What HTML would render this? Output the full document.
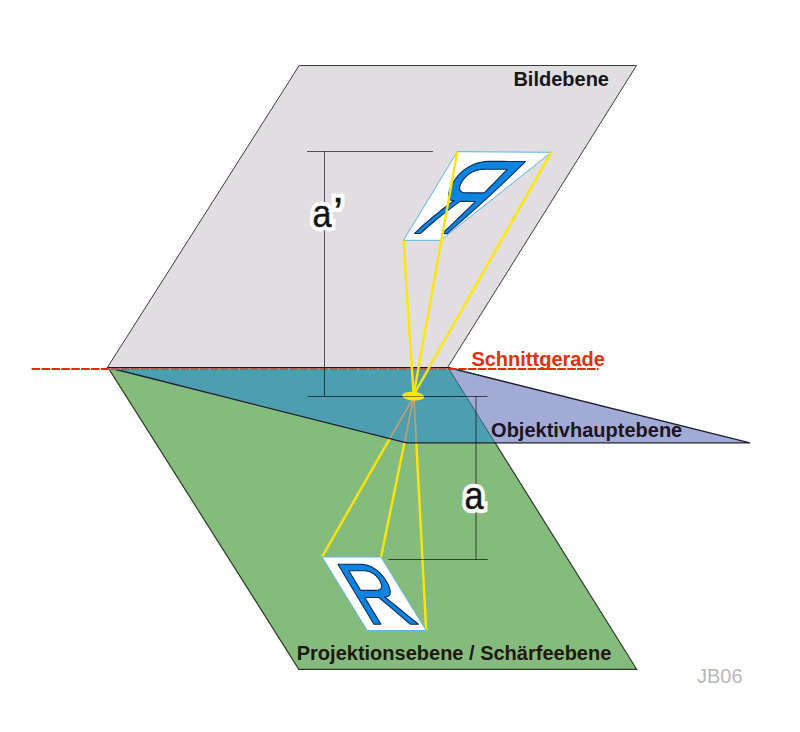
<!DOCTYPE html>
<html><head><meta charset="utf-8"><style>
html,body{margin:0;padding:0;background:#fff;}
svg{display:block;}
</style></head><body>
<svg width="800" height="732" viewBox="0 0 800 732">
<rect width="800" height="732" fill="#fff"/>
<polygon points="299.20,65.50 636.50,65.50 447.60,367.50 107.40,367.50" fill="#e0dee1" stroke="#3c3c3c" stroke-width="1.0" stroke-linejoin="miter"/>
<polygon points="108.00,367.50 448.00,367.50 636.70,669.30 298.80,669.30" fill="#86bb7e" stroke="#2a3a22" stroke-width="1.2"/>
<line x1="413.90" y1="396.50" x2="322.00" y2="557.00" stroke="#ffe600" stroke-width="2.4"/>
<line x1="413.90" y1="396.50" x2="381.00" y2="557.00" stroke="#ffe600" stroke-width="2.4"/>
<line x1="413.90" y1="396.50" x2="426.20" y2="630.50" stroke="#ffe600" stroke-width="2.4"/>
<polygon points="108.00,367.50 448.00,367.50 750.00,442.80 406.50,442.80" fill="#a2aad6" stroke="none"/>
<polygon points="108.00,367.50 448.00,367.50 495.08,442.80 406.50,442.80" fill="#4e9eb2" stroke="none"/>
<clipPath id="tc"><polygon points="108.00,367.50 448.00,367.50 495.08,442.80 406.50,442.80"/></clipPath>
<g clip-path="url(#tc)"><line x1="413.90" y1="396.50" x2="322.00" y2="557.00" stroke="#c4a070" stroke-width="1.6"/><line x1="413.90" y1="396.50" x2="381.00" y2="557.00" stroke="#c4a070" stroke-width="1.6"/><line x1="413.90" y1="396.50" x2="426.20" y2="630.50" stroke="#c4a070" stroke-width="1.6"/></g>
<line x1="448" y1="367.5" x2="495.08" y2="442.8" stroke="#1f5a66" stroke-width="0.9"/>
<polyline points="108.00,367.50 406.50,442.80 750.00,442.80 448.00,367.50" fill="none" stroke="#1e2030" stroke-width="1.3"/>
<line x1="108" y1="367.5" x2="448" y2="367.5" stroke="#1c1820" stroke-width="1"/>
<line x1="108" y1="369.0" x2="448" y2="369.0" stroke="#9c98a4" stroke-width="2"/>
<line x1="31.6" y1="369.0" x2="108" y2="369.0" stroke="#e8280a" stroke-width="2.0" stroke-dasharray="8.5 1.42" stroke-dashoffset="0.00"/>
<line x1="108" y1="369.0" x2="448" y2="369.0" stroke="#b85858" stroke-width="2.0" stroke-dasharray="8.5 1.42" stroke-dashoffset="6.96"/>
<line x1="448" y1="369.0" x2="598.6" y2="369.0" stroke="#e8280a" stroke-width="2.0" stroke-dasharray="8.5 1.42" stroke-dashoffset="9.68"/>
<g stroke="#000" stroke-width="1" fill="none" stroke-opacity="0.64"><path d="M307 151.5H433M324.5 151.5V396M307.5 396.5H487.5M476 396.5V559.5M388.3 559.5H487.7"/></g>
<polygon points="322.00,557.00 381.00,557.00 426.20,630.50 367.20,630.50" fill="#fff" stroke="#5ab4e4" stroke-width="1"/>
<path d="M410.41 624.30L405.18 619.84L399.94 615.37L394.71 610.91L389.48 606.44L384.25 601.98L379.02 597.51L376.66 597.51L374.30 597.51L371.95 597.51L369.59 597.51L367.23 597.51L364.88 597.51L367.56 601.98L370.23 606.44L372.91 610.91L375.59 615.37L378.27 619.84L380.95 624.30L379.78 624.30L378.62 624.30L377.45 624.30L376.29 624.30L375.12 624.30L373.96 624.30L367.95 614.28L361.94 604.27L355.93 594.25L349.92 584.23L343.91 574.22L337.90 564.20L341.60 564.20L345.30 564.20L348.99 564.20L352.69 564.20L356.39 564.20L360.09 564.20L362.62 564.33L365.11 564.70L367.56 565.34L369.97 566.22L372.33 567.35L374.65 568.74L376.89 570.36L379.02 572.17L381.04 574.18L382.94 576.38L384.73 578.79L386.41 581.39L387.63 583.56L388.62 585.62L389.37 587.55L389.89 589.37L390.17 591.07L390.22 592.65L390.00 594.03L389.50 595.14L388.70 595.97L387.62 596.52L386.24 596.79L384.57 596.79L390.22 601.37L395.87 605.96L401.51 610.54L407.16 615.13L412.81 619.71L418.46 624.30ZM379.55 580.26L378.58 578.77L377.53 577.40L376.41 576.16L375.22 575.04L373.95 574.04L372.60 573.17L371.19 572.42L369.73 571.81L368.22 571.34L366.66 571.00L365.05 570.79L363.39 570.73L360.96 570.73L358.53 570.73L356.10 570.73L353.67 570.73L351.24 570.73L348.81 570.73L350.77 574.00L352.74 577.28L354.70 580.56L356.67 583.83L358.64 587.11L360.60 590.39L363.08 590.39L365.55 590.39L368.03 590.39L370.50 590.39L372.97 590.39L375.45 590.39L376.96 590.31L378.27 590.09L379.36 589.72L380.24 589.20L380.91 588.54L381.37 587.72L381.61 586.78L381.64 585.71L381.44 584.52L381.03 583.22L380.40 581.80L379.55 580.26Z" fill="#0c84e0" stroke="#0a2c5a" stroke-width="1.1" stroke-linejoin="round"/>
<polygon points="457.30,151.70 551.20,152.30 440.70,240.30 403.50,240.30" fill="#fff" stroke="#5ab4e4" stroke-width="1"/>
<path d="M420.32 233.55L424.78 229.52L429.39 225.50L434.14 221.48L439.04 217.45L444.07 213.43L449.26 209.42L454.58 205.40L460.05 201.38L462.00 201.39L463.94 201.40L465.89 201.41L467.84 201.42L469.79 201.43L471.74 201.43L473.69 201.44L475.64 201.45L471.54 205.47L467.42 209.48L463.27 213.50L459.08 217.51L454.86 221.53L450.61 225.54L446.32 229.56L442.01 233.57L442.65 233.57L443.29 233.57L443.94 233.58L444.58 233.58L445.22 233.58L445.87 233.58L446.51 233.58L447.15 233.58L457.51 224.58L467.71 215.58L477.74 206.58L487.61 197.57L497.32 188.57L506.87 179.56L516.25 170.55L525.48 161.54L521.16 161.51L516.84 161.49L512.51 161.46L508.19 161.43L503.87 161.41L499.55 161.38L495.22 161.35L490.90 161.33L487.94 161.40L485.03 161.64L482.17 162.05L479.39 162.63L476.67 163.39L474.04 164.31L471.49 165.41L469.02 166.69L466.66 168.11L464.43 169.67L462.34 171.37L460.37 173.20L458.52 175.17L456.78 177.28L455.14 179.51L453.60 181.89L452.43 183.86L451.43 185.76L450.57 187.58L449.87 189.32L449.31 190.97L448.90 192.55L448.62 194.05L448.48 195.47L448.50 196.75L448.71 197.84L449.11 198.75L449.70 199.47L450.49 200.01L451.49 200.35L452.70 200.51L454.12 200.48L448.56 204.61L443.17 208.74L437.95 212.87L432.89 217.00L428.01 221.13L423.30 225.27L418.76 229.40L414.39 233.54ZM462.72 180.56L463.70 179.21L464.74 177.93L465.85 176.74L467.01 175.64L468.24 174.61L469.54 173.68L470.91 172.82L472.36 172.05L473.86 171.37L475.42 170.78L477.02 170.28L478.68 169.88L480.39 169.56L482.14 169.34L483.94 169.22L485.78 169.18L488.46 169.20L491.14 169.21L493.81 169.23L496.49 169.24L499.17 169.26L501.85 169.28L504.53 169.29L507.21 169.31L504.40 172.26L501.57 175.21L498.72 178.16L495.86 181.11L492.98 184.06L490.08 187.01L487.17 189.96L484.23 192.90L482.01 192.89L479.78 192.88L477.55 192.87L475.33 192.86L473.10 192.85L470.87 192.84L468.64 192.83L466.42 192.82L465.04 192.76L463.83 192.61L462.77 192.35L461.87 191.99L461.12 191.54L460.52 190.98L460.06 190.32L459.76 189.57L459.60 188.72L459.59 187.80L459.73 186.79L460.02 185.71L460.46 184.54L461.05 183.29L461.81 181.97L462.72 180.56Z" fill="#0c84e0" stroke="#0a2c5a" stroke-width="1.1" stroke-linejoin="round"/>
<ellipse cx="413.2" cy="396.2" rx="11" ry="4.4" fill="#ffe600" transform="rotate(4 413.2 396.2)"/>
<line x1="402" y1="396.5" x2="448" y2="396.5" stroke="#0a3038" stroke-width="1" opacity="0.55"/>
<line x1="413.60" y1="395.00" x2="403.50" y2="240.30" stroke="#ffe600" stroke-width="2.4"/>
<line x1="413.60" y1="395.00" x2="457.30" y2="151.70" stroke="#ffe600" stroke-width="2.4"/>
<line x1="413.60" y1="395.00" x2="551.20" y2="152.30" stroke="#ffe600" stroke-width="2.4"/>
<text x="513.41" y="85.7" font-family="Liberation Sans, sans-serif" font-weight="bold" font-size="20" fill="#161616">Bildebene</text>
<text x="471.42" y="365.6" font-family="Liberation Sans, sans-serif" font-weight="bold" font-size="20" fill="#e0300c">Schnittgerade</text>
<text x="491.08" y="436.5" font-family="Liberation Sans, sans-serif" font-weight="bold" font-size="20" fill="#1e141e">Objektivhauptebene</text>
<text x="296.76" y="660.0" font-family="Liberation Sans, sans-serif" font-weight="bold" font-size="20" fill="#201810">Projektionsebene / Schärfeebene</text>
<text x="696.94" y="682.5" font-family="Liberation Sans, sans-serif" font-size="20" fill="#b8b8bc">JB06</text>
<g transform="translate(312.44649999999996 226.7) scale(0.9 1)"><text x="0" y="0" font-family="Liberation Sans, sans-serif" font-size="38" fill="#fff" stroke="#fff" stroke-width="8.6" stroke-linejoin="miter" stroke-miterlimit="4">a</text><text x="0" y="0" font-family="Liberation Sans, sans-serif" font-size="38" fill="#141414" stroke="#141414" stroke-width="0.45">a</text></g>
<g transform="translate(333.234 226.8) scale(1.0 1)"><text x="0" y="0" font-family="Liberation Sans, sans-serif" font-size="43" fill="#fff" stroke="#fff" stroke-width="8.6" stroke-linejoin="miter" stroke-miterlimit="4">’</text><text x="0" y="0" font-family="Liberation Sans, sans-serif" font-size="43" fill="#141414" stroke="#141414" stroke-width="0.45">’</text></g>
<g transform="translate(464.5465 508.9) scale(0.9 1)"><text x="0" y="0" font-family="Liberation Sans, sans-serif" font-size="38" fill="#fff" stroke="#fff" stroke-width="8.6" stroke-linejoin="miter" stroke-miterlimit="4">a</text><text x="0" y="0" font-family="Liberation Sans, sans-serif" font-size="38" fill="#141414" stroke="#141414" stroke-width="0.45">a</text></g>
</svg>
</body></html>
